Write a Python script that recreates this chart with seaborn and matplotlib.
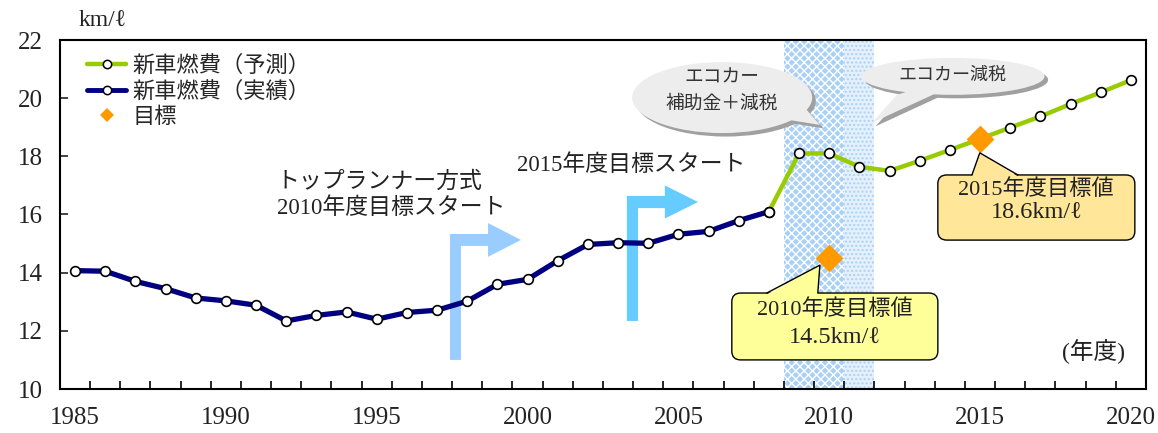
import matplotlib
matplotlib.use("Agg")
import matplotlib.pyplot as plt
import numpy as np
import pandas as pd
import seaborn as sns
from matplotlib.lines import Line2D
from matplotlib.patches import Ellipse, Polygon, FancyBboxPatch

# ---- data -------------------------------------------------------------
actual_years = list(range(1985, 2009))
actual_fe = [14.07, 14.05, 13.70, 13.45, 13.13, 13.03, 12.88, 12.34, 12.53,
             12.65, 12.40, 12.63, 12.71, 13.02, 13.60, 13.77, 14.41, 14.97,
             15.03, 15.01, 15.32, 15.42, 15.79, 16.10]
forecast_years = list(range(2008, 2021))
forecast_fe = [16.10, 18.10, 18.10, 17.64, 17.50, 17.85, 18.22, 18.60, 18.99,
               19.37, 19.80, 20.20, 20.62]
target_years = [2010, 2015]
target_fe = [14.5, 18.6]

x_labels = [1985, 1990, 1995, 2000, 2005, 2010, 2015, 2020]
y_ticks = [10, 12, 14, 16, 18, 20, 22]

label_forecast = "新車燃費（予測）"
label_actual = "新車燃費（実績）"
label_target = "目標"

actual = pd.DataFrame({"year": actual_years, "fe": actual_fe})
forecast = pd.DataFrame({"year": forecast_years, "fe": forecast_fe})
targets = pd.DataFrame({"year": target_years, "fe": target_fe})

# ---- style ------------------------------------------------------------
sns.set_theme(style="white")
FONTS = ["Liberation Serif", "DejaVu Serif", "Noto Sans CJK JP"]
plt.rcParams["font.family"] = FONTS
plt.rcParams["hatch.linewidth"] = 1.0

NAVY = "#000080"
GREEN = "#99CC00"
ORANGE = "#FF9900"
TXT = "#222222"

fig = plt.figure(figsize=(11.58, 4.33), dpi=100)
ax = fig.add_axes([60 / 1158, 44 / 433, 1086 / 1158, 349 / 433])

# subsidy / tax-cut periods
ax.axvspan(2008.5, 2010.5, facecolor="#A9D1F7", edgecolor="white",
           hatch="xxxx", linewidth=0, zorder=0.5)
ax.axvspan(2010.5, 2011.5, facecolor="#E4F0FD", edgecolor="#A9D1F7",
           hatch="....", linewidth=0, zorder=0.5)

# fuel economy lines
marker_kw = dict(marker="o", markersize=7, markerfacecolor="white",
                 markeredgecolor="black", markeredgewidth=1.2)
sns.lineplot(data=forecast, x="year", y="fe", ax=ax, color=GREEN,
             linewidth=3.2, zorder=3, **marker_kw)
sns.lineplot(data=actual, x="year", y="fe", ax=ax, color=NAVY,
             linewidth=3.8, zorder=3.5, **marker_kw)
sns.scatterplot(data=targets, x="year", y="fe", ax=ax, marker="D", s=200,
                color=ORANGE, linewidth=0, zorder=6)

# axes
ax.set_xlim(1984.5, 2020.5)
ax.set_ylim(10, 22)
ax.set_xticks(x_labels)
ax.set_xticklabels([str(v) for v in x_labels])
ax.set_xticks(np.arange(1985.5, 2020, 1.0), minor=True)
ax.set_yticks(y_ticks)
ax.tick_params(axis="x", which="major", length=0, pad=13, labelsize=18,
               colors=TXT)
ax.tick_params(axis="x", which="minor", direction="in", length=6,
               width=1.2, color="black", bottom=True)
ax.tick_params(axis="y", direction="in", length=6, width=1.2, pad=12,
               labelsize=18, colors=TXT, left=True)
ax.set_xlabel("")
ax.set_ylabel("")
for sp in ax.spines.values():
    sp.set_visible(True)
    sp.set_color("black")
    sp.set_linewidth(1.5)

ax.text(0.039, 1.057, "km/ℓ", transform=ax.transAxes, ha="center",
        va="center", fontsize=17, color=TXT, clip_on=False)
ax.text(0.952, 0.106, "(年度)", transform=ax.transAxes, ha="center",
        va="center", fontsize=17, color=TXT)

# legend
handles = [
    Line2D([], [], color=GREEN, linewidth=3.2, marker="o", markersize=6,
           markerfacecolor="white", markeredgecolor="black",
           markeredgewidth=1.1),
    Line2D([], [], color=NAVY, linewidth=3.5, marker="o", markersize=6,
           markerfacecolor="white", markeredgecolor="black",
           markeredgewidth=1.1),
    Line2D([], [], linestyle="none", marker="D", markersize=7.5,
           markerfacecolor=ORANGE, markeredgewidth=0),
]
ax.legend(handles, [label_forecast, label_actual, label_target],
          loc="upper left", bbox_to_anchor=(0.017, 0.98), frameon=False,
          fontsize=16, handlelength=1.75, handletextpad=0.3,
          labelspacing=0.2, borderaxespad=0, borderpad=0.4)

# annotation text
ax.text(1991.69, 17.12, "トップランナー方式", ha="left", va="center",
        fontsize=16.5, color=TXT, zorder=7)
ax.text(1991.69, 16.22, "2010年度目標スタート", ha="left", va="center",
        fontsize=16.5, color=TXT, zorder=7)
ax.text(1999.65, 17.70, "2015年度目標スタート", ha="left", va="center",
        fontsize=16.5, color=TXT, zorder=7)


def bent_arrow(x0, x1, y_bottom, y_top, bar_h, head_x, head_tip, head_half,
               color):
    """L-shaped arrow: rises from y_bottom, then turns right."""
    yc = y_top - bar_h / 2
    pts = [(x0, y_bottom), (x0, y_top), (head_x, y_top),
           (head_x, yc + head_half), (head_tip, yc),
           (head_x, yc - head_half), (head_x, y_top - bar_h),
           (x1, y_top - bar_h), (x1, y_bottom)]
    ax.add_patch(Polygon(pts, closed=True, facecolor=color, edgecolor="none",
                         zorder=2))


bent_arrow(1997.43, 1997.79, 11.0, 15.33, 0.41, 1998.69, 1999.78, 0.58,
           "#99CCFF")
bent_arrow(2003.29, 2003.66, 12.34, 16.64, 0.42, 2004.55, 2005.65, 0.57,
           "#66CCFF")


def speech_bubble(cx, cy, w, h, tail, base1, base2, lines, fs, ty):
    shadow_dx, shadow_dy = 0.12, -0.12
    for dx, dy, fc, z in [(shadow_dx, shadow_dy, "#A0A0A0", 7),
                          (0, 0, "#EDEDED", 7.2)]:
        ax.add_patch(Ellipse((cx + dx, cy + dy), w, h, facecolor=fc,
                             edgecolor="none", zorder=z))
        ax.add_patch(Polygon([(cx + dx, cy + dy),
                              (base1[0] + dx, base1[1] + dy),
                              (tail[0] + dx, tail[1] + dy),
                              (base2[0] + dx, base2[1] + dy)],
                             closed=True, facecolor=fc, edgecolor="none",
                             zorder=z))
    for line, yy in zip(lines, ty):
        ax.text(cx, yy, line, ha="center", va="center", fontsize=fs,
                color="#333333", zorder=8)


speech_bubble(2006.45, 20.02, 5.97, 2.44, (2009.69, 19.08),
              (2009.25, 19.60), (2008.74, 19.24),
              ["エコカー", "補助金＋減税"], 13.5, [20.69, 19.80])
speech_bubble(2014.10, 20.75, 6.07, 1.27, (2011.41, 19.15),
              (2013.44, 20.12), (2012.24, 20.11),
              ["エコカー減税"], 13, [20.80])


def value_callout(x0, x1, y0, y1, tail_l, tail_r, tip, fc, lines, ty, sizes):
    ax.add_patch(FancyBboxPatch((x0, y0), x1 - x0, y1 - y0,
                                boxstyle="round,pad=0,rounding_size=0.3",
                                facecolor=fc, edgecolor="black",
                                linewidth=1.0, zorder=7))
    ax.add_patch(Polygon([(tail_l, y1 - 0.05), tip, (tail_r, y1 - 0.05)],
                         closed=True, facecolor=fc, edgecolor="none",
                         zorder=7.1))
    ax.plot([tail_l, tip[0], tail_r], [y1, tip[1], y1], color="black",
            linewidth=1.0, zorder=7.2, solid_joinstyle="miter")
    xc = (x0 + x1) / 2
    for line, yy, fs in zip(lines, ty, sizes):
        ax.text(xc, yy, line, ha="center", va="center", fontsize=fs,
                color=TXT, zorder=8)


value_callout(2006.77, 2013.60, 11.00, 13.30, 2007.93, 2009.62,
              (2009.69, 14.26), "#FFFF99",
              ["2010年度目標値", f"{target_fe[0]}km/ℓ"], [12.72, 11.79],
              [16, 17.5])
value_callout(2013.60, 2020.13, 15.12, 17.36, 2014.73, 2016.25,
              (2014.99, 18.12), "#FFE699",
              ["2015年度目標値", f"{target_fe[1]}km/ℓ"], [16.84, 16.09],
              [16, 17.5])

fig.savefig("out.png", dpi=100)
